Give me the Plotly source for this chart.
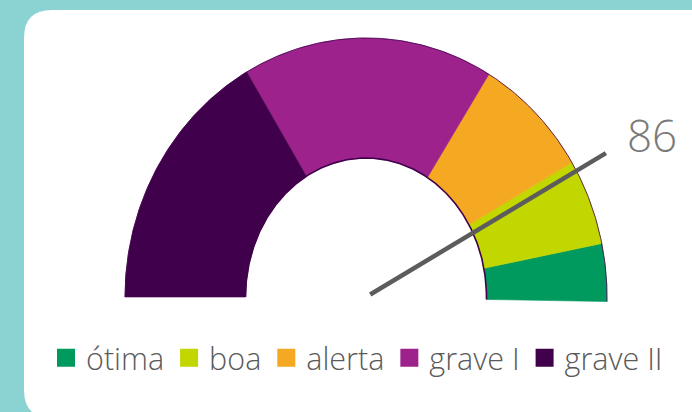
import numpy as np
import plotly.graph_objects as go

# Gauge bands (value ranges) and their colours
categories = ["ótima", "boa", "alerta", "grave I", "grave II"]
colors = ["#009a5e", "#c2d600", "#f5a822", "#9e228b", "#41004b"]
band_upper = [100, 94, 85, 72, 44]
band_lower = [94, 85, 72, 44, 16]
needle_value = 86
scale_min, scale_max = 16, 100

# Canvas in pixel units
W, H = 692, 412
CX, CY = 366, 297            # gauge centre
OUT_A, OUT_B = 241, 259      # outer radii (x, y)
IN_A, IN_B = 120.5, 139      # inner radii (x, y)
ANG_AT_MIN, ANG_AT_MAX = 180.0, -1.0   # degrees

TEXT_FONT = "Open Sans"


def to_angle(v):
    frac = (v - scale_min) / (scale_max - scale_min)
    return np.radians(ANG_AT_MIN + frac * (ANG_AT_MAX - ANG_AT_MIN))


def ring_point(t, a, b, k=1.0):
    return CX + k * a * np.cos(t), CY - k * b * np.sin(t)


fig = go.Figure()

# Card behind the gauge
r = 28
x0, y0, x1, y1 = 24, 10, 730, 418
card = (f"M {x0},{y0 + r} Q {x0},{y0} {x0 + r},{y0} L {x1 - r},{y0} "
        f"Q {x1},{y0} {x1},{y0 + r} L {x1},{y1 - r} Q {x1},{y1} {x1 - r},{y1} "
        f"L {x0 + r},{y1} Q {x0},{y1} {x0},{y1 - r} Z")
fig.add_shape(type="path", path=card, xref="x", yref="y",
              fillcolor="white", line=dict(width=0), layer="below")

# Band wedges
for name, col, lo, hi in zip(categories, colors, band_lower, band_upper):
    t = np.linspace(to_angle(lo), to_angle(hi), 120)
    ox, oy = ring_point(t, OUT_A, OUT_B)
    ix, iy = ring_point(t[::-1], IN_A, IN_B)
    fig.add_trace(go.Scatter(
        x=np.concatenate([ox, ix, ox[:1]]), y=np.concatenate([oy, iy, oy[:1]]),
        mode="lines", fill="toself", fillcolor=col,
        line=dict(width=0.6, color=col), hoverinfo="skip", showlegend=False))

# Thin dark rims along both arcs
t_all = np.linspace(to_angle(scale_min), to_angle(scale_max), 400)
for a, b, w in [(IN_A, IN_B, 1.6), (OUT_A, OUT_B, 0.8)]:
    rx, ry = ring_point(t_all, a, b)
    fig.add_trace(go.Scatter(x=rx, y=ry, mode="lines",
                             line=dict(width=w, color="#41004b"),
                             hoverinfo="skip", showlegend=False))

# Needle
tn = to_angle(needle_value)
sx, sy = ring_point(tn, OUT_A, OUT_B, 0.02)
ex, ey = ring_point(tn, OUT_A, OUT_B, 1.14)
fig.add_trace(go.Scatter(x=[sx, ex], y=[sy, ey], mode="lines",
                         line=dict(width=4.5, color="#5c5c5c"),
                         hoverinfo="skip", showlegend=False))
fig.add_annotation(x=ex, y=ey, text=str(needle_value), showarrow=False,
                   xanchor="left", yanchor="bottom", xshift=19, yshift=-14,
                   font=dict(family=TEXT_FONT, size=44, color="#7a7a7a", weight=300))

# Legend entries
for name, col in zip(categories, colors):
    fig.add_trace(go.Scatter(x=[None], y=[None], mode="markers", name=name,
                             marker=dict(symbol="square", size=16, color=col,
                                         line=dict(width=2, color=col))))

fig.update_layout(
    width=W, height=H, margin=dict(l=0, r=0, t=0, b=0),
    paper_bgcolor="#8bd2d2", plot_bgcolor="rgba(0,0,0,0)",
    xaxis=dict(range=[0, W], visible=False, fixedrange=True),
    yaxis=dict(range=[H, 0], visible=False, fixedrange=True),
    showlegend=True,
    legend=dict(orientation="h", x=46 / W, y=1 - 358 / H, xanchor="left",
                yanchor="middle", bgcolor="rgba(0,0,0,0)",
                font=dict(family=TEXT_FONT, size=30.5, color="#5a5a5a", weight=300),
                itemclick=False, itemdoubleclick=False),
)

fig.write_html("out.html")
